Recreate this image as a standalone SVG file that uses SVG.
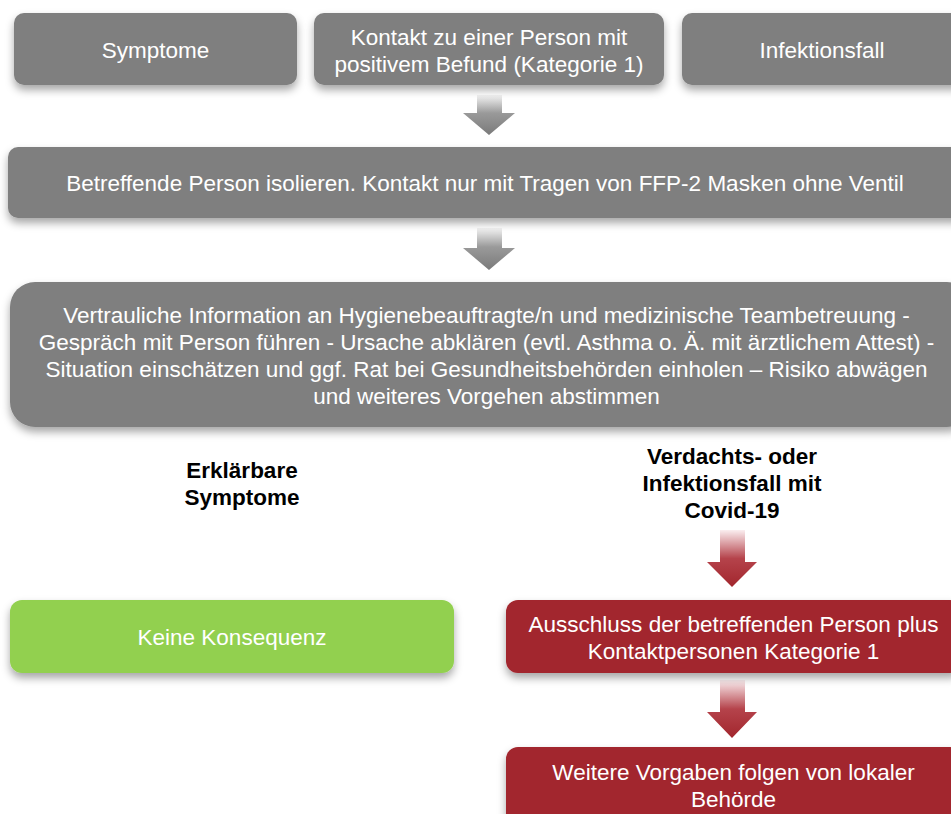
<svg xmlns="http://www.w3.org/2000/svg" width="951" height="814" viewBox="0 0 951 814">
<defs>
<filter id="sh" x="-10%" y="-20%" width="120%" height="160%">
<feDropShadow dx="0" dy="5" stdDeviation="4" flood-color="#000" flood-opacity="0.35"/>
</filter>
<linearGradient id="ga" x1="0" y1="0" x2="0" y2="1">
<stop offset="0" stop-color="#f4f4f4"/>
<stop offset="0.45" stop-color="#9a9a9a"/>
<stop offset="1" stop-color="#7a7a7a"/>
</linearGradient>
<linearGradient id="ra" x1="0" y1="0" x2="0" y2="1">
<stop offset="0" stop-color="#fbeef0"/>
<stop offset="0.5" stop-color="#b5434b"/>
<stop offset="1" stop-color="#a2262d"/>
</linearGradient>
</defs>
<style>
.g{fill:#7f7f7f;filter:url(#sh)}
.r{fill:#a2262d;filter:url(#sh)}
.gr{fill:#92d050;filter:url(#sh)}
.t{font-family:"Liberation Sans",Arial,sans-serif;font-size:22.5px;fill:#fff;text-anchor:middle}
.b{font-family:"Liberation Sans",Arial,sans-serif;font-size:22.5px;font-weight:bold;fill:#000;text-anchor:middle}
</style>
<rect width="951" height="814" fill="#fff"/>
<g id="connectors">
<path d="M477 95 H502 V113 H515 L489 135 L463 113 H477 Z" fill="url(#ga)"/>
<path d="M477 228 H502 V248 H515 L489 270 L463 248 H477 Z" fill="url(#ga)"/>
<path d="M720 530 H745 V562 H757 L732 587 L707 562 H720 Z" fill="url(#ra)"/>
<path d="M720 680 H745 V712 H757 L732 738 L707 712 H720 Z" fill="url(#ra)"/>
</g>
<g id="n1">
<rect class="g" x="14" y="13" width="283" height="72" rx="10"/>
<text class="t" x="155.5" y="58">Symptome</text>
</g>
<g id="n2">
<rect class="g" x="314" y="13" width="350" height="72" rx="10"/>
<text class="t" x="489" y="45">Kontakt zu einer Person mit</text>
<text class="t" x="489" y="72">positivem Befund (Kategorie 1)</text>
</g>
<g id="n3">
<rect class="g" x="682" y="13" width="290" height="72" rx="10"/>
<text class="t" x="822" y="58">Infektionsfall</text>
</g>
<g id="n4">
<rect class="g" x="8" y="147" width="964" height="71" rx="10"/>
<text class="t" x="485" y="191">Betreffende Person isolieren. Kontakt nur mit Tragen von FFP-2 Masken ohne Ventil</text>
</g>
<g id="n5">
<rect class="g" x="10" y="282" width="962" height="145" rx="25"/>
<text class="t" x="486.5" y="323">Vertrauliche Information an Hygienebeauftragte/n und medizinische Teambetreuung -</text>
<text class="t" x="486.5" y="350">Gespräch mit Person führen - Ursache abklären (evtl. Asthma o. Ä. mit ärztlichem Attest) -</text>
<text class="t" x="486.5" y="377">Situation einschätzen und ggf. Rat bei Gesundheitsbehörden einholen – Risiko abwägen</text>
<text class="t" x="486.5" y="404">und weiteres Vorgehen abstimmen</text>
</g>
<g id="l1">
<text class="b" x="242" y="478">Erklärbare</text>
<text class="b" x="242" y="505">Symptome</text>
</g>
<g id="l2">
<text class="b" x="732" y="464">Verdachts- oder</text>
<text class="b" x="732" y="491">Infektionsfall mit</text>
<text class="b" x="732" y="518">Covid-19</text>
</g>
<g id="n6">
<rect class="gr" x="10" y="600" width="444" height="73" rx="12"/>
<text class="t" x="232" y="645">Keine Konsequenz</text>
</g>
<g id="n7">
<rect class="r" x="506" y="600" width="456" height="73" rx="12"/>
<text class="t" x="733.5" y="632">Ausschluss der betreffenden Person plus</text>
<text class="t" x="733.5" y="659">Kontaktpersonen Kategorie 1</text>
</g>
<g id="n8">
<rect class="r" x="506" y="747" width="456" height="90" rx="12"/>
<text class="t" x="733.5" y="780">Weitere Vorgaben folgen von lokaler</text>
<text class="t" x="733.5" y="807">Behörde</text>
</g>
</svg>
